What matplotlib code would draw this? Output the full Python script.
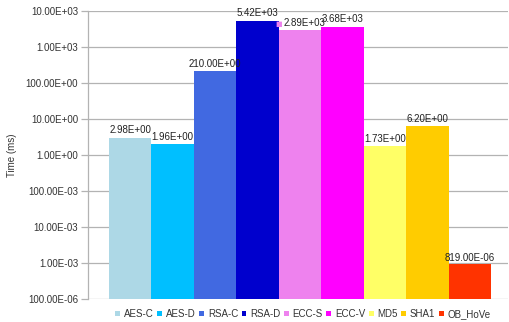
import math

import matplotlib
matplotlib.use("Agg")
import matplotlib.pyplot as plt
from matplotlib.patches import Patch
from matplotlib.ticker import FuncFormatter

plt.rcParams["font.family"] = ["Liberation Sans", "DejaVu Sans"]
plt.rcParams["font.size"] = 7

names = ["AES-C", "AES-D", "RSA-C", "RSA-D", "ECC-S", "ECC-V", "MD5", "SHA1", "OB_HoVe"]
times = [2.98, 1.96, 210.0, 5420.0, 2890.0, 3680.0, 1.73, 6.20, 819e-6]
colors = ["#add8e6", "#00bfff", "#4169e1", "#0000cd", "#ee82ee",
          "#ff00ff", "#ffff66", "#ffcc00", "#ff3300"]
yticks = [1e-4, 1e-3, 1e-2, 1e-1, 1e0, 1e1, 1e2, 1e3, 1e4]


def eng(v):
    """Engineering notation like 210.00E+00"""
    if v <= 0:
        return "0"
    e = int(math.floor(math.log10(v) / 3) * 3)
    m = v / 10 ** e
    if round(m, 2) >= 1000:
        e += 3
        m /= 1000
    return f"{m:.2f}E{e:+03d}"


fig = plt.figure(figsize=(5.09, 3.22), dpi=100)
ax = fig.add_axes([88 / 509, 23 / 322, 420 / 509, 288 / 322])

xs = list(range(len(names)))
ax.bar(xs, times, width=1.0, color=colors, bottom=1e-4, zorder=2)
ax.set_yscale("log")
ax.set_ylim(1e-4, 1e4)
ax.set_xlim(-0.99, 8.9)

ax.set_yticks(yticks)
ax.minorticks_off()
ax.yaxis.set_major_formatter(FuncFormatter(lambda v, p: eng(v)))
ax.set_xticks([])
ax.grid(axis="y", color="#b3b3b3", linewidth=0.9, zorder=0)
ax.tick_params(axis="y", length=5, color="#b3b3b3", width=0.9, labelsize=7, pad=2,
               labelcolor="#333333")

for s in ["top", "right", "bottom"]:
    ax.spines[s].set_visible(False)
ax.spines["left"].set_color("#b3b3b3")
ax.spines["left"].set_linewidth(0.9)

fig.text(12 / 509, 1 - 155 / 322, "Time (ms)", rotation=90, ha="center", va="center",
         fontsize=7, color="#333333")

for x, v, c in zip(xs, times, colors):
    lab = eng(v)
    if names[x] == "ECC-S":
        ax.annotate("■", (x, v), xytext=(-15, 2.5), textcoords="offset points",
                    ha="center", va="bottom", color=c, fontsize=5,
                    family="DejaVu Sans")
        ax.annotate(lab, (x, v), xytext=(3, 2), textcoords="offset points",
                    ha="center", va="bottom", color="#222222", fontsize=7)
    else:
        ax.annotate(lab, (x, v), xytext=(0, 2), textcoords="offset points",
                    ha="center", va="bottom", color="#222222", fontsize=7)

handles = [Patch(facecolor=c, label=n) for n, c in zip(names, colors)]
fig.legend(handles=handles, loc="center", bbox_to_anchor=(303 / 509, 1 - 314 / 322),
           ncol=9, frameon=False, fontsize=7, handlelength=0.5, handleheight=0.5,
           handletextpad=0.4, columnspacing=0.35, labelcolor="#333333",
           borderpad=0.1)

fig.savefig("out.png", dpi=100)
